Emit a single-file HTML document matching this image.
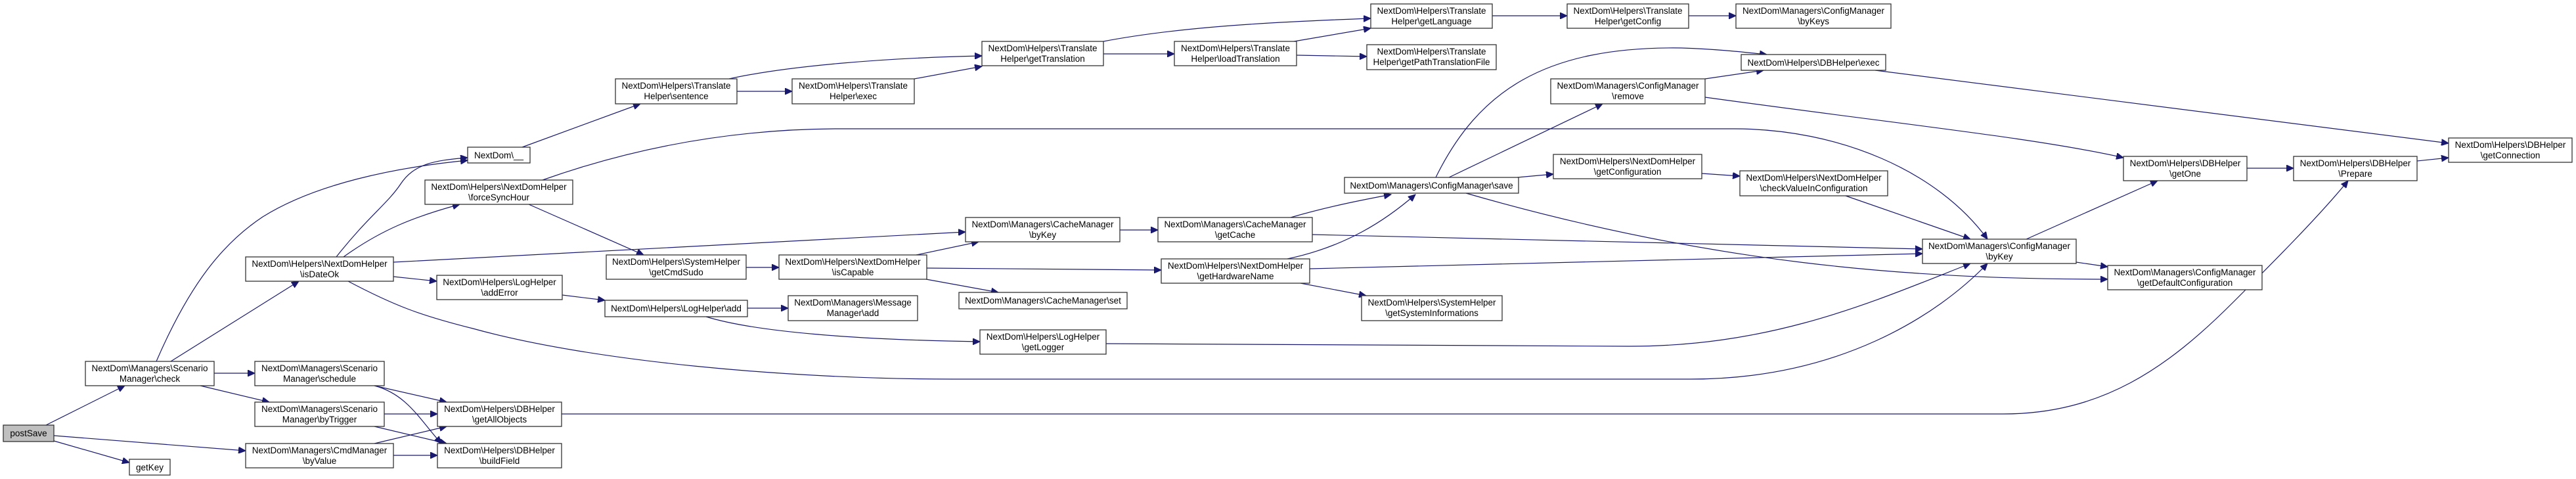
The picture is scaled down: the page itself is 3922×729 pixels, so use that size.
<!DOCTYPE html>
<html><head><meta charset="utf-8"><style>
html,body{margin:0;padding:0;background:#fff;}
svg{display:block;}
text{font-family:"Liberation Sans",Helvetica,sans-serif;font-size:13.5px;fill:#000;text-anchor:middle;}
rect{fill:#fff;stroke:#333;stroke-width:1.3;}
path{fill:none;stroke:#191970;stroke-width:1.2;}
</style></head><body>
<svg width="3922" height="729" viewBox="0 0 3922 729" xmlns="http://www.w3.org/2000/svg">
<defs><marker id="a" markerUnits="userSpaceOnUse" markerWidth="12" markerHeight="10" refX="11" refY="5" orient="auto"><polygon points="0,0 11,5 0,10" fill="#191970" stroke="#191970"/></marker></defs>
<g marker-end="url(#a)">
<path d="M70,647 L190,587"/>
<path d="M82,663 L374,686"/>
<path d="M82,671 L197,704"/>
<path d="M238,550 C290,430 340,370 400,330 C480,280 600,255 712,244"/>
<path d="M260,550 L455,428"/>
<path d="M326,568 L388,568"/>
<path d="M305,587 L410,612"/>
<path d="M512,391 C560,330 590,310 610,280 C630,250 660,244 712,240"/>
<path d="M523,391 C580,350 630,330 700,311"/>
<path d="M599,399 L1470,353"/>
<path d="M599,421 L665,428"/>
<path d="M530,428 C600,465 640,480 720,500 C900,550 1200,577 1450,577 L2574,577 C2800,577 2950,480 3026,401"/>
<path d="M805,311 L980,388"/>
<path d="M826,274 C950,230 1100,196 1280,196 L2640,196 C2800,196 2950,260 3026,364"/>
<path d="M795,224 L975,158"/>
<path d="M1110,120 C1200,100 1350,88 1495,85"/>
<path d="M1122,139 L1206,139"/>
<path d="M1392,120 L1495,101"/>
<path d="M1680,82 L1788,82"/>
<path d="M1680,63 C1800,40 1950,33 2087,28"/>
<path d="M1970,63 L2087,43"/>
<path d="M1974,84 L2081,86"/>
<path d="M2272,24 L2386,24"/>
<path d="M2571,24 L2643,24"/>
<path d="M1136,407 L1186,407"/>
<path d="M1395,388 L1490,368"/>
<path d="M1411,408 L1768,411"/>
<path d="M1410,425 L1520,445"/>
<path d="M1705,350 L1763,350"/>
<path d="M1965,331 C2020,315 2070,305 2118,296"/>
<path d="M1998,357 L2927,379"/>
<path d="M1960,394 C2050,375 2110,335 2155,296"/>
<path d="M1994,409 L2927,386"/>
<path d="M1980,431 L2080,450"/>
<path d="M856,449 L921,457"/>
<path d="M1138,469 L1200,469"/>
<path d="M1075,482 C1150,505 1300,517 1492,520"/>
<path d="M1684,523 L2480,527 C2700,527 2850,460 3000,401"/>
<path d="M2186,270 C2250,140 2350,70 2560,73 C2620,75 2660,80 2690,83"/>
<path d="M2206,270 L2440,158"/>
<path d="M2310,270 L2365,265"/>
<path d="M2232,294 C2600,400 2900,425 3209,425"/>
<path d="M2596,120 L2685,107"/>
<path d="M2596,148 C2900,190 3100,210 3233,240"/>
<path d="M2855,107 L3728,218"/>
<path d="M2591,264 L2649,268"/>
<path d="M2810,298 L3000,364"/>
<path d="M3085,364 L3285,275"/>
<path d="M3161,399 L3209,406"/>
<path d="M3421,256 L3492,256"/>
<path d="M3680,245 L3728,240"/>
<path d="M855,630 L3050,630 C3200,630 3300,560 3400,460 C3460,400 3530,330 3575,275"/>
<path d="M570,587 L680,612"/>
<path d="M570,587 C620,600 640,640 672,675"/>
<path d="M585,630 L666,630"/>
<path d="M570,649 L680,675"/>
<path d="M570,675 L680,649"/>
<path d="M599,693 L666,693"/>
</g>
<g>
<rect x="5" y="647" width="77" height="25" style="fill:#bfbfbf"/><text x="43.5" y="664">postSave</text>
<rect x="197" y="699" width="62" height="24"/><text x="228" y="716">getKey</text>
<rect x="130" y="550" width="196" height="37"/><text x="228" y="565">NextDom\Managers\Scenario</text><text x="228" y="581">Manager\check</text>
<rect x="374" y="391" width="225" height="37"/><text x="486.5" y="406">NextDom\Helpers\NextDomHelper</text><text x="486.5" y="422">\isDateOk</text>
<rect x="388" y="550" width="197" height="37"/><text x="486.5" y="565">NextDom\Managers\Scenario</text><text x="486.5" y="581">Manager\schedule</text>
<rect x="388" y="612" width="197" height="37"/><text x="486.5" y="627">NextDom\Managers\Scenario</text><text x="486.5" y="643">Manager\byTrigger</text>
<rect x="374" y="675" width="225" height="37"/><text x="486.5" y="690">NextDom\Managers\CmdManager</text><text x="486.5" y="706">\byValue</text>
<rect x="712" y="224" width="95" height="24"/><text x="759.5" y="241">NextDom\__</text>
<rect x="647" y="274" width="225" height="37"/><text x="759.5" y="289">NextDom\Helpers\NextDomHelper</text><text x="759.5" y="305">\forceSyncHour</text>
<rect x="665" y="419" width="191" height="37"/><text x="760.5" y="434">NextDom\Helpers\LogHelper</text><text x="760.5" y="450">\addError</text>
<rect x="666" y="612" width="189" height="37"/><text x="760.5" y="627">NextDom\Helpers\DBHelper</text><text x="760.5" y="643">\getAllObjects</text>
<rect x="666" y="675" width="189" height="37"/><text x="760.5" y="690">NextDom\Helpers\DBHelper</text><text x="760.5" y="706">\buildField</text>
<rect x="937" y="120" width="185" height="38"/><text x="1029.5" y="135">NextDom\Helpers\Translate</text><text x="1029.5" y="151">Helper\sentence</text>
<rect x="923" y="388" width="213" height="37"/><text x="1029.5" y="403">NextDom\Helpers\SystemHelper</text><text x="1029.5" y="419">\getCmdSudo</text>
<rect x="921" y="457" width="217" height="25"/><text x="1029.5" y="474">NextDom\Helpers\LogHelper\add</text>
<rect x="1206" y="120" width="186" height="38"/><text x="1299" y="135">NextDom\Helpers\Translate</text><text x="1299" y="151">Helper\exec</text>
<rect x="1186" y="388" width="225" height="37"/><text x="1298.5" y="403">NextDom\Helpers\NextDomHelper</text><text x="1298.5" y="419">\isCapable</text>
<rect x="1200" y="450" width="197" height="38"/><text x="1298.5" y="465">NextDom\Managers\Message</text><text x="1298.5" y="481">Manager\add</text>
<rect x="1495" y="63" width="185" height="37"/><text x="1587.5" y="78">NextDom\Helpers\Translate</text><text x="1587.5" y="94">Helper\getTranslation</text>
<rect x="1470" y="331" width="235" height="37"/><text x="1587.5" y="346">NextDom\Managers\CacheManager</text><text x="1587.5" y="362">\byKey</text>
<rect x="1460" y="445" width="256" height="25"/><text x="1588" y="462">NextDom\Managers\CacheManager\set</text>
<rect x="1492" y="502" width="192" height="37"/><text x="1588" y="517">NextDom\Helpers\LogHelper</text><text x="1588" y="533">\getLogger</text>
<rect x="1788" y="63" width="186" height="37"/><text x="1881" y="78">NextDom\Helpers\Translate</text><text x="1881" y="94">Helper\loadTranslation</text>
<rect x="1763" y="331" width="235" height="37"/><text x="1880.5" y="346">NextDom\Managers\CacheManager</text><text x="1880.5" y="362">\getCache</text>
<rect x="1768" y="394" width="226" height="37"/><text x="1881" y="409">NextDom\Helpers\NextDomHelper</text><text x="1881" y="425">\getHardwareName</text>
<rect x="2087" y="6" width="185" height="37"/><text x="2179.5" y="21">NextDom\Helpers\Translate</text><text x="2179.5" y="37">Helper\getLanguage</text>
<rect x="2081" y="68" width="197" height="38"/><text x="2179.5" y="83">NextDom\Helpers\Translate</text><text x="2179.5" y="99">Helper\getPathTranslationFile</text>
<rect x="2047" y="270" width="265" height="24"/><text x="2179.5" y="287">NextDom\Managers\ConfigManager\save</text>
<rect x="2073" y="450" width="214" height="38"/><text x="2180" y="465">NextDom\Helpers\SystemHelper</text><text x="2180" y="481">\getSystemInformations</text>
<rect x="2386" y="6" width="185" height="37"/><text x="2478.5" y="21">NextDom\Helpers\Translate</text><text x="2478.5" y="37">Helper\getConfig</text>
<rect x="2361" y="120" width="235" height="38"/><text x="2478.5" y="135">NextDom\Managers\ConfigManager</text><text x="2478.5" y="151">\remove</text>
<rect x="2365" y="235" width="226" height="37"/><text x="2478" y="250">NextDom\Helpers\NextDomHelper</text><text x="2478" y="266">\getConfiguration</text>
<rect x="2643" y="6" width="236" height="37"/><text x="2761" y="21">NextDom\Managers\ConfigManager</text><text x="2761" y="37">\byKeys</text>
<rect x="2651" y="83" width="220" height="24"/><text x="2761" y="100">NextDom\Helpers\DBHelper\exec</text>
<rect x="2649" y="260" width="225" height="38"/><text x="2761.5" y="275">NextDom\Helpers\NextDomHelper</text><text x="2761.5" y="291">\checkValueInConfiguration</text>
<rect x="2927" y="364" width="234" height="37"/><text x="3044" y="379">NextDom\Managers\ConfigManager</text><text x="3044" y="395">\byKey</text>
<rect x="3233" y="238" width="188" height="37"/><text x="3327" y="253">NextDom\Helpers\DBHelper</text><text x="3327" y="269">\getOne</text>
<rect x="3209" y="404" width="235" height="37"/><text x="3326.5" y="419">NextDom\Managers\ConfigManager</text><text x="3326.5" y="435">\getDefaultConfiguration</text>
<rect x="3492" y="238" width="188" height="37"/><text x="3586" y="253">NextDom\Helpers\DBHelper</text><text x="3586" y="269">\Prepare</text>
<rect x="3728" y="210" width="188" height="37"/><text x="3822" y="225">NextDom\Helpers\DBHelper</text><text x="3822" y="241">\getConnection</text>
</g>
</svg>
</body></html>
